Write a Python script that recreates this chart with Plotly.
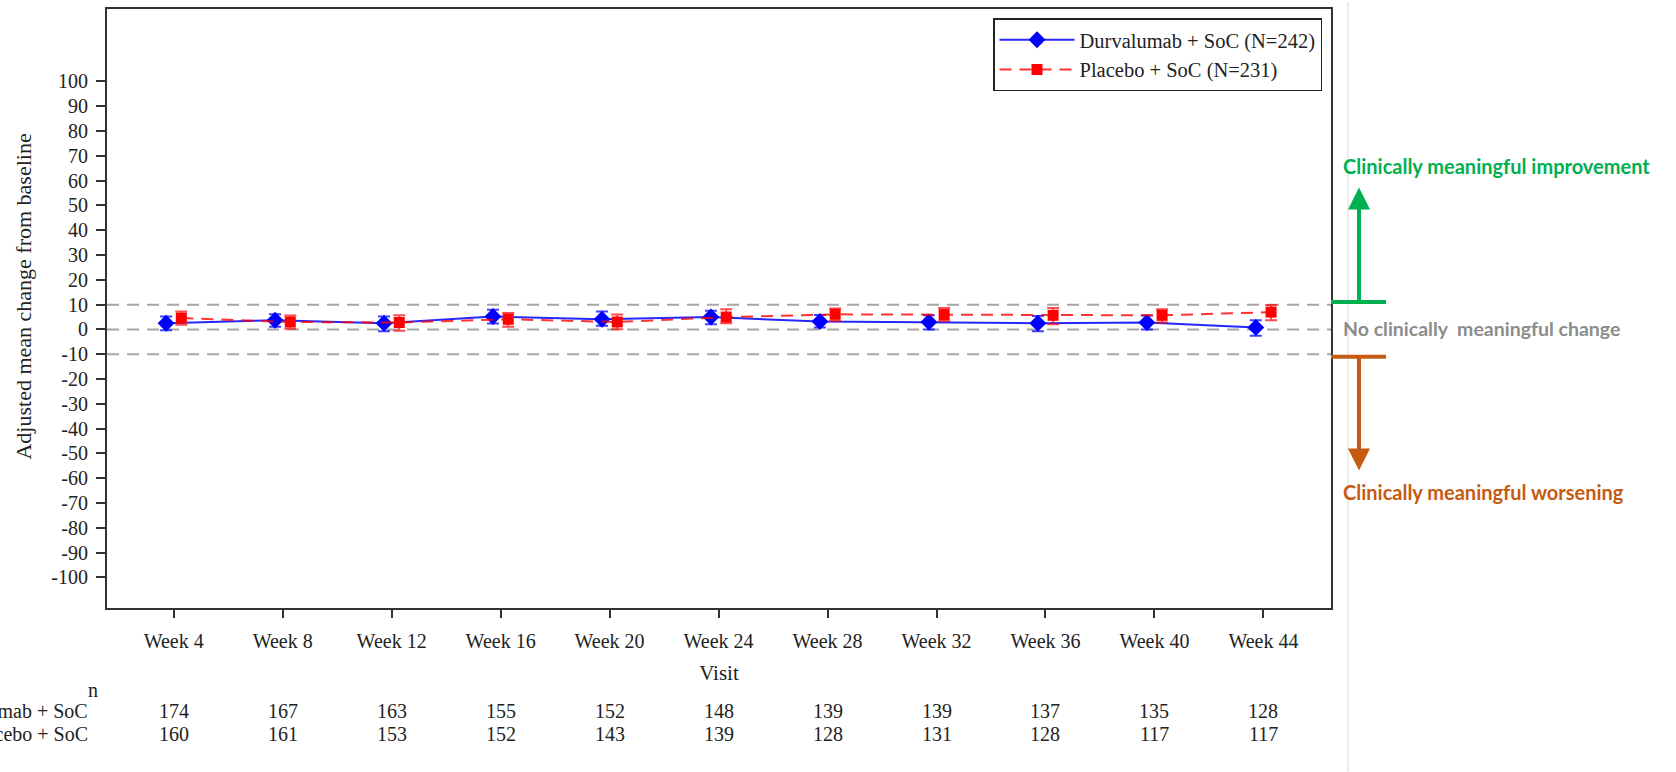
import plotly.graph_objects as go

visits = ["Week 4", "Week 8", "Week 12", "Week 16", "Week 20", "Week 24",
          "Week 28", "Week 32", "Week 36", "Week 40", "Week 44"]
durva_mean = [2.5, 3.7, 2.5, 5.2, 4.1, 5.0, 3.2, 3.0, 2.5, 2.8, 0.8]
durva_lo = [-0.3, 1.1, -0.7, 2.4, 1.5, 2.1, 0.8, 0.0, -0.7, 0.0, -2.5]
durva_hi = [5.2, 6.1, 5.2, 7.9, 7.2, 7.5, 5.8, 5.7, 5.4, 5.6, 3.7]
placebo_mean = [4.6, 3.0, 2.8, 4.1, 3.0, 5.0, 6.1, 6.0, 5.7, 5.7, 7.0]
placebo_lo = [1.9, 0.3, -0.5, 1.1, 0.1, 2.5, 3.4, 3.4, 2.1, 2.8, 3.7]
placebo_hi = [7.2, 5.6, 5.7, 6.6, 6.0, 8.1, 8.5, 8.7, 8.7, 8.1, 9.9]
durva_n = [174, 167, 163, 155, 152, 148, 139, 139, 137, 135, 128]
placebo_n = [160, 161, 153, 152, 143, 139, 128, 131, 128, 117, 117]
durva_name = "Durvalumab + SoC (N=242)"
placebo_name = "Placebo + SoC (N=231)"
row_labels = ["Durvalumab + SoC", "Placebo + SoC"]
ref_lines = [10, 0, -10]
ytick_vals = list(range(-100, 101, 10))
ytick_text = [str(v) for v in ytick_vals]

W, H = 1676, 772
ML, MR, MT, MB = 107, 345, 7, 164
PW, PH = W - ML - MR, H - MT - MB


def px_x(p):
    return (p - ML) / PW


def px_y(p):
    return (H - MB - p) / PH


SERIF = "Liberation Serif"
SANS = "Lato"
TXT = "#222"
dodge = 0.07
idx = list(range(len(visits)))

fig = go.Figure()
fig.add_trace(go.Scatter(
    x=[i - dodge for i in idx], y=durva_mean, name=durva_name,
    mode="lines+markers",
    line=dict(color="rgba(0,0,255,0.85)", width=2),
    marker=dict(symbol="diamond", size=13, color="#0000ff"),
    error_y=dict(type="data", symmetric=False,
                 array=[h - m for h, m in zip(durva_hi, durva_mean)],
                 arrayminus=[m - l for m, l in zip(durva_mean, durva_lo)],
                 color="rgba(0,0,255,0.75)", thickness=2, width=6),
))
fig.add_trace(go.Scatter(
    x=[i + dodge for i in idx], y=placebo_mean, name=placebo_name,
    mode="lines+markers",
    line=dict(color="rgba(255,0,0,0.8)", width=2, dash="12px,8px"),
    marker=dict(symbol="square", size=11, color="#ff0000"),
    error_y=dict(type="data", symmetric=False,
                 array=[h - m for h, m in zip(placebo_hi, placebo_mean)],
                 arrayminus=[m - l for m, l in zip(placebo_mean, placebo_lo)],
                 color="rgba(255,0,0,0.7)", thickness=2, width=6),
))

shapes = []
for v in ref_lines:
    shapes.append(dict(type="line", xref="paper", yref="y", x0=0, x1=1, y0=v, y1=v,
                       line=dict(color="#a6a6a6", width=2, dash="12px,8px"), layer="below"))
shapes.append(dict(type="line", xref="paper", yref="paper", x0=px_x(1348), x1=px_x(1348),
                   y0=px_y(H), y1=px_y(0), line=dict(color="#d9d9d9", width=1)))
shapes.append(dict(type="line", xref="paper", yref="paper", x0=px_x(1331), x1=px_x(1386),
                   y0=px_y(301), y1=px_y(301), line=dict(color="#00b050", width=4)))
shapes.append(dict(type="line", xref="paper", yref="paper", x0=px_x(1331), x1=px_x(1386),
                   y0=px_y(356), y1=px_y(356), line=dict(color="#c55a11", width=4)))

ann = []
ann.append(dict(xref="paper", yref="paper", x=px_x(1359), y=px_y(186), ax=0, ay=115,
                showarrow=True, arrowhead=2, arrowsize=1.1, arrowwidth=4, arrowcolor="#00b050", text=""))
ann.append(dict(xref="paper", yref="paper", x=px_x(1359), y=px_y(470), ax=0, ay=-114,
                showarrow=True, arrowhead=2, arrowsize=1.1, arrowwidth=4, arrowcolor="#c55a11", text=""))
ann.append(dict(xref="paper", yref="paper", x=px_x(1341), y=px_y(165), xanchor="left", yanchor="middle",
                showarrow=False, text="<b>Clinically meaningful improvement</b>",
                font=dict(family=SANS, size=20, color="#00b050")))
ann.append(dict(xref="paper", yref="paper", x=px_x(1341), y=px_y(328), xanchor="left", yanchor="middle",
                showarrow=False, text="<b>No clinically  meaningful change</b>",
                font=dict(family=SANS, size=19.5, color="#8c8c8c")))
ann.append(dict(xref="paper", yref="paper", x=px_x(1341), y=px_y(492), xanchor="left", yanchor="middle",
                showarrow=False, text="<b>Clinically meaningful worsening</b>",
                font=dict(family=SANS, size=20, color="#c55a11")))
ann.append(dict(xref="paper", yref="paper", x=px_x(23.5), y=px_y(296), textangle=-90,
                xanchor="center", yanchor="middle",
                showarrow=False, text="Adjusted mean change from baseline",
                font=dict(family=SERIF, size=22, color=TXT)))
ann.append(dict(xref="paper", yref="paper", x=px_x(92.5), y=px_y(690), xanchor="center", yanchor="middle",
                showarrow=False, text="n", font=dict(family=SERIF, size=20, color=TXT)))
for lab, ypx in zip(row_labels, [711, 734]):
    ann.append(dict(xref="paper", yref="paper", x=px_x(90), y=px_y(ypx), xanchor="right", yanchor="middle",
                    showarrow=False, text=lab, font=dict(family=SERIF, size=20, color=TXT)))
for i in idx:
    ann.append(dict(xref="x", yref="paper", x=i, y=px_y(711), xanchor="center", yanchor="middle",
                    showarrow=False, text=str(durva_n[i]), font=dict(family=SERIF, size=20, color=TXT)))
    ann.append(dict(xref="x", yref="paper", x=i, y=px_y(734), xanchor="center", yanchor="middle",
                    showarrow=False, text=str(placebo_n[i]), font=dict(family=SERIF, size=20, color=TXT)))

fig.update_layout(
    width=W, height=H,
    margin=dict(l=ML, r=MR, t=MT, b=MB, pad=0),
    paper_bgcolor="white", plot_bgcolor="white",
    font=dict(family=SERIF, size=20, color=TXT),
    showlegend=True,
    legend=dict(x=px_x(1322), y=px_y(16.5), xanchor="right", yanchor="top",
                bordercolor="#222", borderwidth=1.5, bgcolor="white",
                font=dict(family=SERIF, size=20.5, color=TXT),
                itemwidth=75, tracegroupgap=0),
    shapes=shapes,
    annotations=ann,
    xaxis=dict(range=[-0.612, 10.62], tickmode="array", tickvals=idx, ticktext=visits,
               showgrid=False, zeroline=False, showline=True, mirror=True,
               linecolor="#333", linewidth=2, ticks="outside", ticklen=8, tickwidth=2,
               tickcolor="#333", ticklabelstandoff=6,
               title=dict(text="Visit", font=dict(family=SERIF, size=21), standoff=14)),
    yaxis=dict(range=[-112.3, 129.2], tickmode="array", tickvals=ytick_vals, ticktext=ytick_text,
               showgrid=False, zeroline=False, showline=True, mirror=True,
               linecolor="#333", linewidth=2, ticks="outside", ticklen=9, tickwidth=2,
               tickcolor="#333", ticklabelstandoff=4),
)

fig.write_html("out.html")
